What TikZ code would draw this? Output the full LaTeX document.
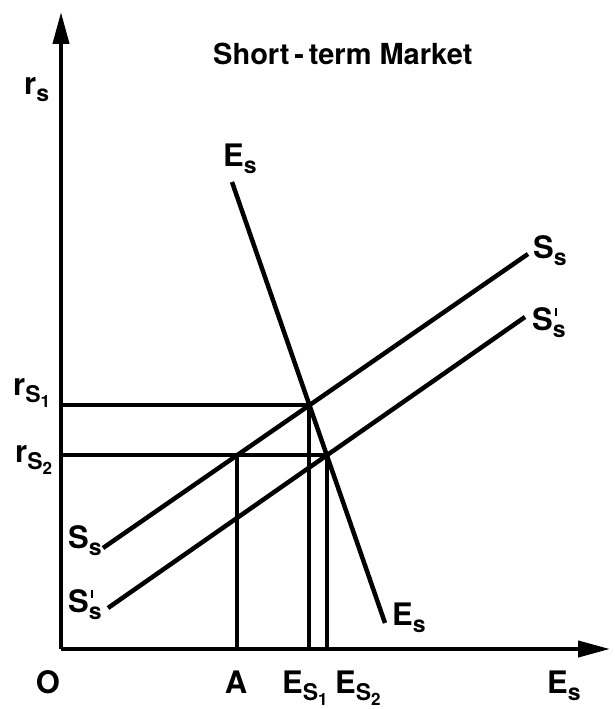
\documentclass[tikz,border=0pt]{standalone}
\usepackage{fontspec}
\setmainfont{TeX Gyre Heros}
\usetikzlibrary{arrows.meta,intersections}
\newcommand{\lblsub}[1]{\raisebox{-7pt}{\fontsize{23}{23}\selectfont #1}}
\newcommand{\lblsubsub}[1]{\raisebox{-5pt}{\fontsize{17}{17}\selectfont #1}}
\newcommand{\lblprime}{\makebox[0pt][l]{\hspace{2pt}\rule[14pt]{2.6pt}{8pt}}}
\begin{document}
\begin{tikzpicture}[x=1pt,y=-1pt,
  curve/.style={line width=4.5pt},
  axisline/.style={line width=4pt,-{Triangle[length=32pt,width=16pt]}},
  guide/.style={line width=4pt},
  lab/.style={inner sep=0pt,font=\fontsize{31}{31}\selectfont\bfseries,anchor=base west},
  labc/.style={inner sep=0pt,font=\fontsize{31}{31}\selectfont\bfseries,anchor=base}]
\useasboundingbox (0,0) rectangle (614,709);
% axes
\coordinate (O) at (61,649);
\coordinate (ytip) at (61,12);
\coordinate (xtip) at (610,649);
\draw[axisline] (O) -- (ytip);
\draw[axisline] (O) -- (xtip);
% curves
\coordinate (SsL) at (103,548);
\coordinate (SsR) at (528,254);
\coordinate (SpL) at (108,608);
\coordinate (SpR) at (525,317);
\coordinate (EsT) at (232,182);
\coordinate (EsB) at (385,623);
\draw[curve,name path=ss] (SsL) -- (SsR);
\draw[curve,name path=sp] (SpL) -- (SpR);
\draw[curve,name path=es] (EsT) -- (EsB);
\path[name intersections={of=es and ss,by=P1}];
\path[name intersections={of=es and sp,by=P2}];
\coordinate (Y1) at (O |- P1);
\coordinate (Y2) at (O |- P2);
\path[name path=h2] (Y2) -- (P2);
\path[name intersections={of=h2 and ss,by=PA}];
\coordinate (X1) at (O -| P1);
\coordinate (X2) at (O -| P2);
\coordinate (XA) at (O -| PA);
\draw[guide] (Y1) -- (P1) -- (X1);
\draw[guide] (Y2) -- (P2) -- (X2);
\draw[guide] (PA) -- (XA);
% labels
\node[lab,font=\fontsize{29}{29}\selectfont\bfseries] (title) at (213,64) {Short\,{-}\,term Market};
\node[lab] (rsy) at (24,94) {r\lblsub{s}};
\node[lab] (estop) at (223,166) {E\lblsub{s}};
\node[lab] (ssr) at (533,258) {S\lblsub{s}};
\node[lab] (spr) at (532,330) {S\lblprime\lblsub{s}};
\node[lab] (ssl) at (68,548) {S\lblsub{s}};
\node[lab] (spl) at (68,612) {S\lblprime\lblsub{s}};
\node[lab] (esb) at (392,625) {E\lblsub{s}};
\node[lab] (rs1) at (13,395) {r\lblsub{S\lblsubsub{1}}};
\node[lab] (rs2) at (15,462) {r\lblsub{S\lblsubsub{2}}};
\node[labc] (olab) at (48,693) {O};
\node[labc] (alab) at (236,693) {A};
\node[lab] (es1) at (282,693) {E\lblsub{S\lblsubsub{1}}};
\node[lab] (es2) at (335,693) {E\lblsub{S\lblsubsub{2}}};
\node[lab] (esx) at (547,693) {E\lblsub{s}};
\end{tikzpicture}
\end{document}
